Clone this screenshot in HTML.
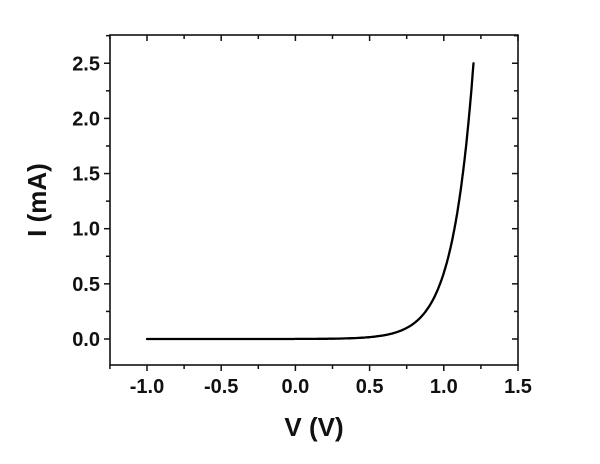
<!DOCTYPE html>
<html><head><style>
body{margin:0;background:#fff;width:600px;height:459px;overflow:hidden}
text{font-family:"Liberation Sans",Arial,sans-serif;font-weight:bold;fill:#111}
</style></head><body>
<svg width="600" height="459" viewBox="0 0 600 459" xmlns="http://www.w3.org/2000/svg">
<rect x="110" y="35" width="408" height="330" fill="none" stroke="#111" stroke-width="1.6"/>
<g id="ticks" stroke="#111" stroke-width="1.5"></g>
<g id="labels" font-size="20"></g>
<polyline id="curve" fill="none" stroke="#000" stroke-width="2.3" stroke-linejoin="round" stroke-linecap="round"/>
<text x="314" y="436" font-size="26" text-anchor="middle">V (V)</text>
<text transform="translate(46,200) rotate(-90)" font-size="26" text-anchor="middle">I (mA)</text>
</svg>
<script>
const X=v=>295.4+v*148.4, Y=i=>339-i*110.3;
const t=document.getElementById('ticks'), l=document.getElementById('labels');
let s='', L='';
for(let k=-5;k<=6;k++){const v=k*0.25,x=X(v);const maj=k%2==0;const len=maj?6:4;
 s+=`<line x1="${x}" y1="365" x2="${x}" y2="${365+len}"/><line x1="${x}" y1="35" x2="${x}" y2="${35+len}"/>`;
 if(maj)L+=`<text x="${x}" y="393" text-anchor="middle">${v.toFixed(1)}</text>`;}
for(let k=0;k<=11;k++){const i=k*0.25,y=Y(i);if(y<35)continue;const maj=k%2==0;const len=maj?6:4;
 s+=`<line x1="110" y1="${y}" x2="${110-len}" y2="${y}"/><line x1="518" y1="${y}" x2="${518-len}" y2="${y}"/>`;
 if(maj)L+=`<text x="100" y="${y+7}" text-anchor="end">${i.toFixed(1)}</text>`;}
t.innerHTML=s;l.innerHTML=L;
const vt=0.14, I0=2.5*Math.exp(-2.2/vt);
let pts=[];
for(let v=-1;v<=1.2001;v+=0.005){const i=2.5*Math.exp((v-1.2)/vt)-I0;pts.push(X(v).toFixed(1)+','+Y(i).toFixed(1));}
document.getElementById('curve').setAttribute('points',pts.join(' '));
</script>
</body></html>
